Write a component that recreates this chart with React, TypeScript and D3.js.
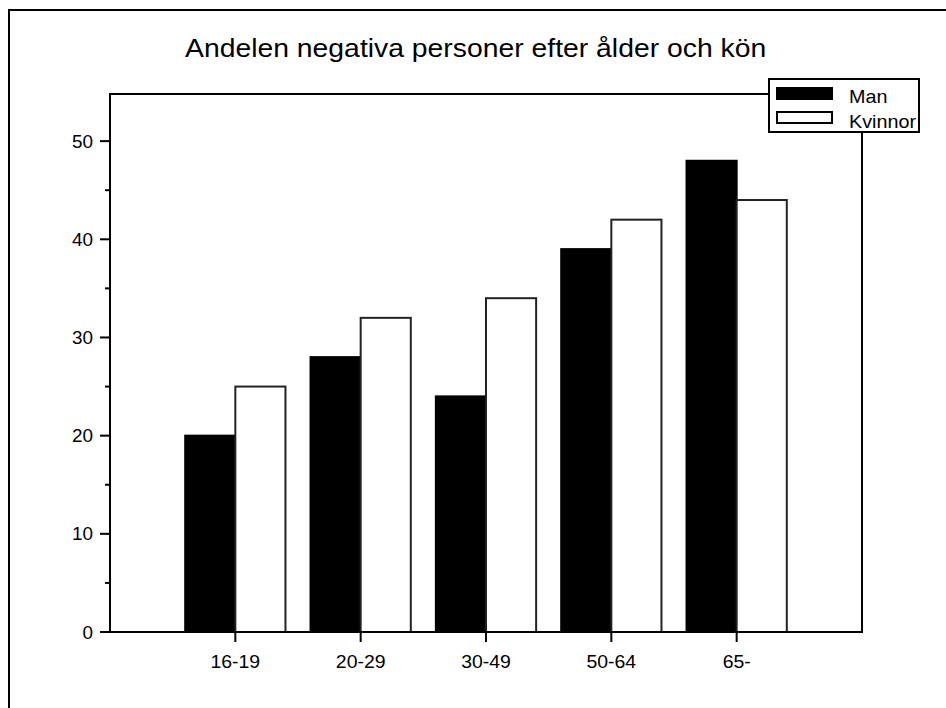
import React from "react";
import * as d3 from "d3";

const categories = ["16-19", "20-29", "30-49", "50-64", "65-"];
const seriesNames = ["Man", "Kvinnor"];
const manValues = [20, 28, 24, 39, 48];
const kvinnorValues = [25, 32, 34, 42, 44];
const yTicks = [0, 10, 20, 30, 40, 50];
const yMinorTicks = [5, 15, 25, 35, 45];
const title = "Andelen negativa personer efter ålder och kön";

const W = 946;
const H = 708;
const FONT = "'Liberation Sans', Arial, sans-serif";

export default function App() {
  const left = 110, right = 862, top = 94, bottom = 632;
  const x = d3.scaleLinear().domain([0, categories.length + 1]).range([left, right]);
  const y = d3.scaleLinear().domain([0, 54.8]).range([bottom, top]);
  const step = x(1) - x(0);
  const bw = step * 0.4;
  const series = [
    { name: seriesNames[0], values: manValues, fill: "#000", stroke: "#000", offset: -1 },
    { name: seriesNames[1], values: kvinnorValues, fill: "#fff", stroke: "#222", offset: 0 },
  ];
  const sx = 1.08;

  return (
    <svg width={W} height={H} style={{ position: "absolute", left: 0, top: 0, background: "#fff" }} fontFamily={FONT}>
      <rect x={9} y={10} width={W} height={H} fill="#fff" stroke="#000" strokeWidth={2} />
      <text transform={`translate(185,57) scale(1.09,1)`} fontSize={26} fill="#000">{title}</text>

      {/* bars */}
      {series.map((s) =>
        s.values.map((v, i) => {
          const cx = x(i + 1);
          const x0 = cx + s.offset * bw;
          return (
            <rect key={s.name + i} x={x0} y={y(v)} width={bw} height={y(0) - y(v)}
              fill={s.fill} stroke={s.stroke} strokeWidth={2} />
          );
        })
      )}

      {/* plot frame */}
      <rect x={left} y={top} width={right - left} height={bottom - top} fill="none" stroke="#000" strokeWidth={2} />

      {/* y axis ticks */}
      {yTicks.map((t) => (
        <g key={"y" + t}>
          <line x1={left - 10} x2={left} y1={y(t)} y2={y(t)} stroke="#000" strokeWidth={2} />
          <text transform={`translate(${left - 17},${y(t) + 6.5}) scale(${sx},1)`} textAnchor="end" fontSize={17.5}>{t}</text>
        </g>
      ))}
      {yMinorTicks.map((t) => (
        <line key={"ym" + t} x1={left - 5} x2={left} y1={y(t)} y2={y(t)} stroke="#000" strokeWidth={2} />
      ))}

      {/* x axis ticks */}
      {categories.map((c, i) => (
        <g key={c}>
          <line x1={x(i + 1)} x2={x(i + 1)} y1={bottom} y2={bottom + 10} stroke="#000" strokeWidth={2} />
          <text transform={`translate(${x(i + 1)},${bottom + 36}) scale(${sx},1)`} textAnchor="middle" fontSize={18}>{c}</text>
        </g>
      ))}

      {/* legend */}
      <g>
        <rect x={769} y={79} width={150} height={53} fill="#fff" stroke="#000" strokeWidth={2} />
        {series.map((s, i) => (
          <g key={"lg" + s.name}>
            <rect x={777} y={88 + i * 24} width={55} height={11} fill={s.fill} stroke="#000" strokeWidth={2} />
            <text transform={`translate(849,${103 + i * 25}) scale(1.04,1)`} fontSize={19}>{s.name}</text>
          </g>
        ))}
      </g>
    </svg>
  );
}
